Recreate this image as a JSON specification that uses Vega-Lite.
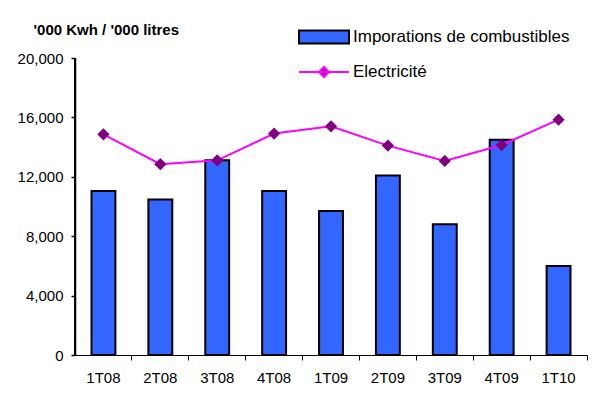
{
  "$schema": "https://vega.github.io/schema/vega-lite/v6.json",
  "width": 512,
  "height": 297,
  "autosize": {"type": "none"},
  "padding": {"left": 75, "top": 58, "right": 6, "bottom": 45},
  "background": "white",
  "config": {
    "view": {"stroke": null},
    "font": "Liberation Sans",
    "axis": {"domainColor": "#000", "tickColor": "#000", "labelColor": "#000", "labelFontSize": 15, "grid": false, "domainWidth": 1, "tickWidth": 1},
    "legend": {"padding": 0, "labelFontSize": 17, "labelColor": "#000", "labelFont": "Liberation Sans", "labelOffset": 3, "labelLimit": 0}
  },
  "data": {
    "values": [
      {"trimestre": "1T08", "combustibles": 11050, "electricite": 14860},
      {"trimestre": "2T08", "combustibles": 10470, "electricite": 12850},
      {"trimestre": "3T08", "combustibles": 13120, "electricite": 13110},
      {"trimestre": "4T08", "combustibles": 11050, "electricite": 14910},
      {"trimestre": "1T09", "combustibles": 9700, "electricite": 15400},
      {"trimestre": "2T09", "combustibles": 12090, "electricite": 14100},
      {"trimestre": "3T09", "combustibles": 8810, "electricite": 13070},
      {"trimestre": "4T09", "combustibles": 14500, "electricite": 14140},
      {"trimestre": "1T10", "combustibles": 5990, "electricite": 15850}
    ]
  },
  "layer": [
    {
      "mark": {"type": "bar", "stroke": "#000", "strokeWidth": 2, "width": {"band": 0.42}},
      "encoding": {
        "x": {
          "field": "trimestre", "type": "nominal", "sort": null,
          "scale": {"paddingInner": 0, "paddingOuter": 0},
          "axis": {"orient": "bottom", "bandPosition": 1, "labels": false, "ticks": true, "tickSize": 5, "title": null, "domain": true, "zindex": 1}
        },
        "y": {
          "field": "combustibles", "type": "quantitative", "scale": {"domain": [0, 20000]},
          "axis": {"title": "'000 Kwh / '000 litres", "values": [0, 4000, 8000, 12000, 16000, 20000], "format": ",.0f", "domain": true, "domainColor": "#000", "domainWidth": 1.5, "ticks": true, "tickColor": "#000", "tickSize": 4, "tickWidth": 1.5, "labelPadding": 8, "zindex": 1, "titleAngle": 0, "titleAlign": "left", "titleBaseline": "alphabetic", "titleX": -42, "titleY": -24, "titleFontSize": 15, "titleFontWeight": "bold", "titleColor": "#000"}
        },
        "fill": {
          "datum": "Imporations de combustibles",
          "scale": {"range": ["#3366ff"]},
          "legend": {"title": null, "orient": "none", "legendX": 223, "legendY": -47, "symbolType": "M-1,-0.26H1V0.26H-1Z", "symbolSize": 2500, "symbolStrokeColor": "#000", "symbolStrokeWidth": 2}
        }
      }
    },
    {
      "mark": {"type": "rule", "color": "#000", "strokeWidth": 1.5},
      "encoding": {
        "x": {"datum": "1T08", "type": "nominal", "bandPosition": 0, "axis": null},
        "y": {"datum": 0, "type": "quantitative"},
        "y2": {"datum": 20000}
      }
    },
    {
      "mark": {"type": "line", "strokeWidth": 2},
      "encoding": {
        "x": {
          "field": "trimestre", "type": "nominal", "sort": null,
          "axis": {"orient": "bottom", "labels": true, "tickOpacity": 0, "domainOpacity": 0, "title": null, "labelPadding": 10, "labelAngle": 0}
        },
        "y": {
          "field": "electricite", "type": "quantitative"
        },
        "stroke": {
          "datum": "Electricité",
          "scale": {"range": ["#ff00ff"]},
          "legend": {"title": null, "orient": "none", "legendX": 223, "legendY": -12, "symbolType": "M-1,0H1M-0.2,0L0,-0.2L0.2,0L0,0.2Z", "symbolSize": 2500, "symbolFillColor": "#800080", "symbolStrokeWidth": 2}
        }
      }
    },
    {
      "mark": {"type": "point", "shape": "diamond", "filled": true, "fill": "#800080", "size": 150, "opacity": 1},
      "encoding": {
        "x": {"field": "trimestre", "type": "nominal", "sort": null, "axis": null},
        "y": {"field": "electricite", "type": "quantitative"}
      }
    }
  ],
  "resolve": {"axis": {"x": "independent"}}
}
